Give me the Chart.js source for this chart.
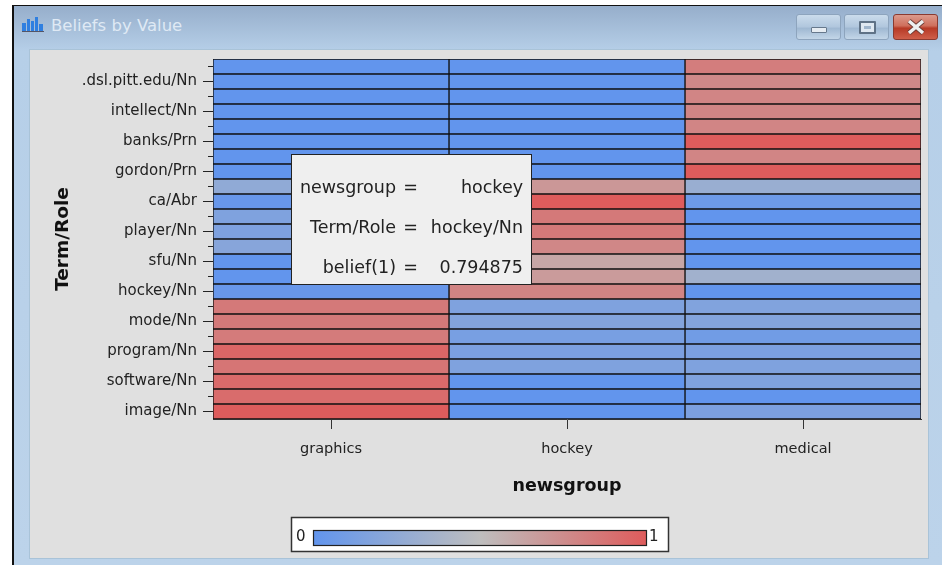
<!DOCTYPE html>
<html>
<head>
<meta charset="utf-8">
<title>Beliefs by Value</title>
<script src="https://cdn.jsdelivr.net/npm/chart.js@4/dist/chart.umd.js"></script>
<style>
    html, body { margin: 0; padding: 0; background: #fff; }
    #page { position: relative; width: 942px; height: 565px; overflow: hidden; background: #fff; }
    #frame { position: absolute; left: 12px; top: 5px; width: 930px; height: 560px; border-left: 2px solid #111; border-top: 1px solid #111; box-sizing: border-box;
             background: linear-gradient(to bottom, #96aecb 0, #b6cfe8 45px, #bcd3ea 100%); }
    #panel { position: absolute; left: 29px; top: 49px; width: 900px; height: 510px; background: #e0e0e0; border: 1px solid #a9c3d8; box-sizing: border-box; }
    #title { position: absolute; left: 51px; top: 16px; font: 16.5px "DejaVu Sans", sans-serif; color: #dfe9f4; }
    #icon { position: absolute; left: 22px; top: 16px; width: 22px; height: 16px; }
    .btn { position: absolute; top: 14px; height: 26px; box-sizing: border-box; border: 1px solid #8da4bd; border-radius: 3px;
           background: linear-gradient(to bottom, #cbdcec 0, #b0c6dd 50%, #9fb8d2 55%, #c3d6e8 100%); }
    #b1 { left: 796px; width: 45px; }
    #b2 { left: 844px; width: 45px; }
    #b3 { left: 893px; width: 45px; border-color: #8a3a30; background: linear-gradient(to bottom, #dc9a8c 0, #cf6f5c 45%, #b73a26 55%, #cf5f4a 100%); }
    #b1 i { position: absolute; left: 14px; top: 12px; width: 16px; height: 6px; background: #e6ecf2; border: 1px solid #66788c; box-sizing: border-box; border-radius: 1px; }
    #b2 i { position: absolute; left: 14px; top: 6px; width: 17px; height: 13px; border: 2px solid #5f7286; background: #dfe8f1; box-sizing: border-box; border-radius: 1px; }
    #b2 i::after { content: ""; position: absolute; left: 3px; top: 3px; width: 7px; height: 3px; background: #9fb5cc; }
    #b3 svg { position: absolute; left: 13px; top: 4px; }
    canvas { position: absolute; left: 0; top: 0; }
</style>
</head>
<body>
<div id="page">
    <div id="frame"></div>
    <svg id="icon" viewBox="0 0 22 16">
        <rect x="0" y="7" width="4" height="9" fill="#2f7fe0"/><rect x="5" y="3" width="3" height="13" fill="#2f7fe0"/>
        <rect x="9" y="5" width="3" height="11" fill="#2f7fe0"/><rect x="13" y="1" width="3" height="15" fill="#2f7fe0"/>
        <rect x="17" y="8" width="4" height="8" fill="#2f7fe0"/><rect x="0" y="15" width="22" height="1" fill="#556"/>
    </svg>
    <div id="title">Beliefs by Value</div>
    <div class="btn" id="b1"><i></i></div>
    <div class="btn" id="b2"><i></i></div>
    <div class="btn" id="b3"><svg width="18" height="16" viewBox="0 0 18 16"><path d="M2 2 L16 14 M16 2 L2 14" stroke="#6b3a34" stroke-width="5"/><path d="M2 2 L16 14 M16 2 L2 14" stroke="#eef0f0" stroke-width="3.4"/></svg></div>
    <div id="panel"></div>
    <canvas id="heat" width="942" height="565"></canvas>
</div>
<script>
// Term/Role rows, top to bottom. Only every second row has a label on the axis.
const terms = ['', '.dsl.pitt.edu/Nn', '', 'intellect/Nn', '', 'banks/Prn', '', 'gordon/Prn',
               '', 'ca/Abr', '', 'player/Nn', '', 'sfu/Nn', '', 'hockey/Nn',
               '', 'mode/Nn', '', 'program/Nn', '', 'software/Nn', '', 'image/Nn'];
const newsgroups = ['graphics', 'hockey', 'medical'];

// belief(1) per row
const graphicsBelief = [0, 0, 0, 0, 0, 0, 0, 0,
                        0.25, 0.03, 0.16, 0.15, 0.2, 0, 0, 0.03,
                        0.85, 0.85, 0.84, 0.95, 0.87, 0.93, 0.92, 1];
const hockeyBelief = [0, 0, 0, 0, 0, 0, 0, 0,
                      0.7, 1, 0.85, 0.85, 0.78, 0.62, 0.68, 0.794875,
                      0.16, 0.18, 0.12, 0.14, 0.16, 0, 0, 0];
const medicalBelief = [0.83, 0.77, 0.79, 0.79, 0.79, 1, 0.79, 1,
                       0.3, 0.06, 0, 0, 0, 0, 0.34, 0,
                       0.17, 0.18, 0.08, 0.14, 0.16, 0.16, 0, 0.14];
const beliefs = [graphicsBelief, hockeyBelief, medicalBelief];

const tooltipLabels = ['newsgroup', 'Term/Role', 'belief(1)'];
const tooltipValues = ['hockey', 'hockey/Nn', '0.794875'];

const FONT = '"DejaVu Sans", sans-serif';
const lowColor = [98, 149, 237];
const midColor = [190, 190, 190];
const highColor = [222, 92, 92];

// blue -> grey -> red, same ramp as the legend
function beliefColor(v) {
    const from = v < 0.5 ? lowColor : midColor;
    const to = v < 0.5 ? midColor : highColor;
    const t = v < 0.5 ? v * 2 : (v - 0.5) * 2;
    const c = from.map((a, i) => Math.round(a + (to[i] - a) * t));
    return `rgb(${c[0]},${c[1]},${c[2]})`;
}

// Popup box, colour legend and the short y ticks are not something the scales draw
const overlayPlugin = {
    id: 'overlay',
    afterDraw(chart) {
        const ctx = chart.ctx;
        const yScale = chart.scales.y;
        ctx.save();

        // short ticks on the unlabelled rows
        ctx.strokeStyle = '#222';
        ctx.lineWidth = 1;
        terms.forEach((term, i) => {
            if (term) return;
            const py = Math.round(yScale.getPixelForTick(i)) - 0.5;
            ctx.beginPath();
            ctx.moveTo(208, py);
            ctx.lineTo(213, py);
            ctx.stroke();
        });

        // popup
        ctx.fillStyle = '#efefef';
        ctx.fillRect(291.5, 154.5, 240, 130);
        ctx.strokeStyle = '#222';
        ctx.strokeRect(291.5, 154.5, 240, 130);
        ctx.font = '17.5px ' + FONT;
        ctx.fillStyle = '#222';
        ctx.textAlign = 'right';
        ctx.textBaseline = 'middle';
        tooltipLabels.forEach((label, i) => {
            const py = 188 + i * 40;
            ctx.fillText(label, 396, py);
            ctx.fillText('=', 418, py);
            ctx.fillText(tooltipValues[i], 523, py);
        });

        // legend
        ctx.fillStyle = '#fff';
        ctx.fillRect(291, 517, 378, 35);
        ctx.strokeStyle = '#333';
        ctx.lineWidth = 1.5;
        ctx.strokeRect(291.5, 517.5, 377, 34);
        const grad = ctx.createLinearGradient(314, 0, 646, 0);
        grad.addColorStop(0, beliefColor(0));
        grad.addColorStop(0.5, beliefColor(0.5));
        grad.addColorStop(1, beliefColor(1));
        ctx.fillStyle = grad;
        ctx.fillRect(314, 530, 332, 16);
        ctx.strokeStyle = '#222';
        ctx.lineWidth = 1.2;
        ctx.strokeRect(313.5, 530.5, 333, 15);
        ctx.font = '15px ' + FONT;
        ctx.fillStyle = '#222';
        ctx.textAlign = 'left';
        ctx.fillText('0', 296, 537);
        ctx.fillText('1', 649, 537);
        ctx.restore();
    }
};

const datasets = newsgroups.map((name, col) => ({
    label: name,
    data: terms.map(() => 1),
    backgroundColor: beliefs[col].map(beliefColor),
    borderColor: '#111',
    borderWidth: 1,
    borderSkipped: false,
    barPercentage: 1,
    categoryPercentage: 1
}));

new Chart(document.getElementById('heat'), {
    type: 'bar',
    data: { labels: terms, datasets: datasets },
    plugins: [overlayPlugin],
    options: {
        indexAxis: 'y',
        responsive: false,
        animation: false,
        layout: { padding: { left: 0, right: 21, top: 59, bottom: 0 } },
        plugins: { legend: { display: false }, tooltip: { enabled: false } },
        scales: {
            x: {
                type: 'linear',
                stacked: true,
                min: 0,
                max: 3,
                afterBuildTicks(axis) {
                    axis.ticks = newsgroups.map((n, i) => ({ value: i + 0.5 }));
                },
                afterFit(axis) { axis.height = 146; },
                grid: { drawOnChartArea: false, tickLength: 10, tickColor: '#333' },
                border: { color: '#333', width: 1 },
                ticks: {
                    autoSkip: false,
                    maxRotation: 0,
                    padding: 12,
                    color: '#222',
                    font: { family: FONT, size: 14.5 },
                    callback(value) { return newsgroups[Math.floor(value)]; }
                },
                title: { display: true, text: 'newsgroup', color: '#111', padding: { top: 0, bottom: 68.5 },
                         font: { family: FONT, size: 17.5, weight: 'bold' } }
            },
            y: {
                stacked: true,
                afterFit(axis) { axis.width = 213; },
                grid: {
                    offset: false,
                    drawOnChartArea: false,
                    tickLength: 10,
                    tickColor: (c) => (terms[c.index] ? '#222' : 'rgba(0,0,0,0)')
                },
                border: { color: '#333', width: 1 },
                ticks: {
                    autoSkip: false,
                    padding: 6,
                    color: '#222',
                    font: { family: FONT, size: 15 }
                },
                title: { display: true, text: 'Term/Role', color: '#111', padding: { top: 52, bottom: 0 },
                         font: { family: FONT, size: 18.5, weight: 'bold' } }
            }
        }
    }
});
</script>
</body>
</html>
